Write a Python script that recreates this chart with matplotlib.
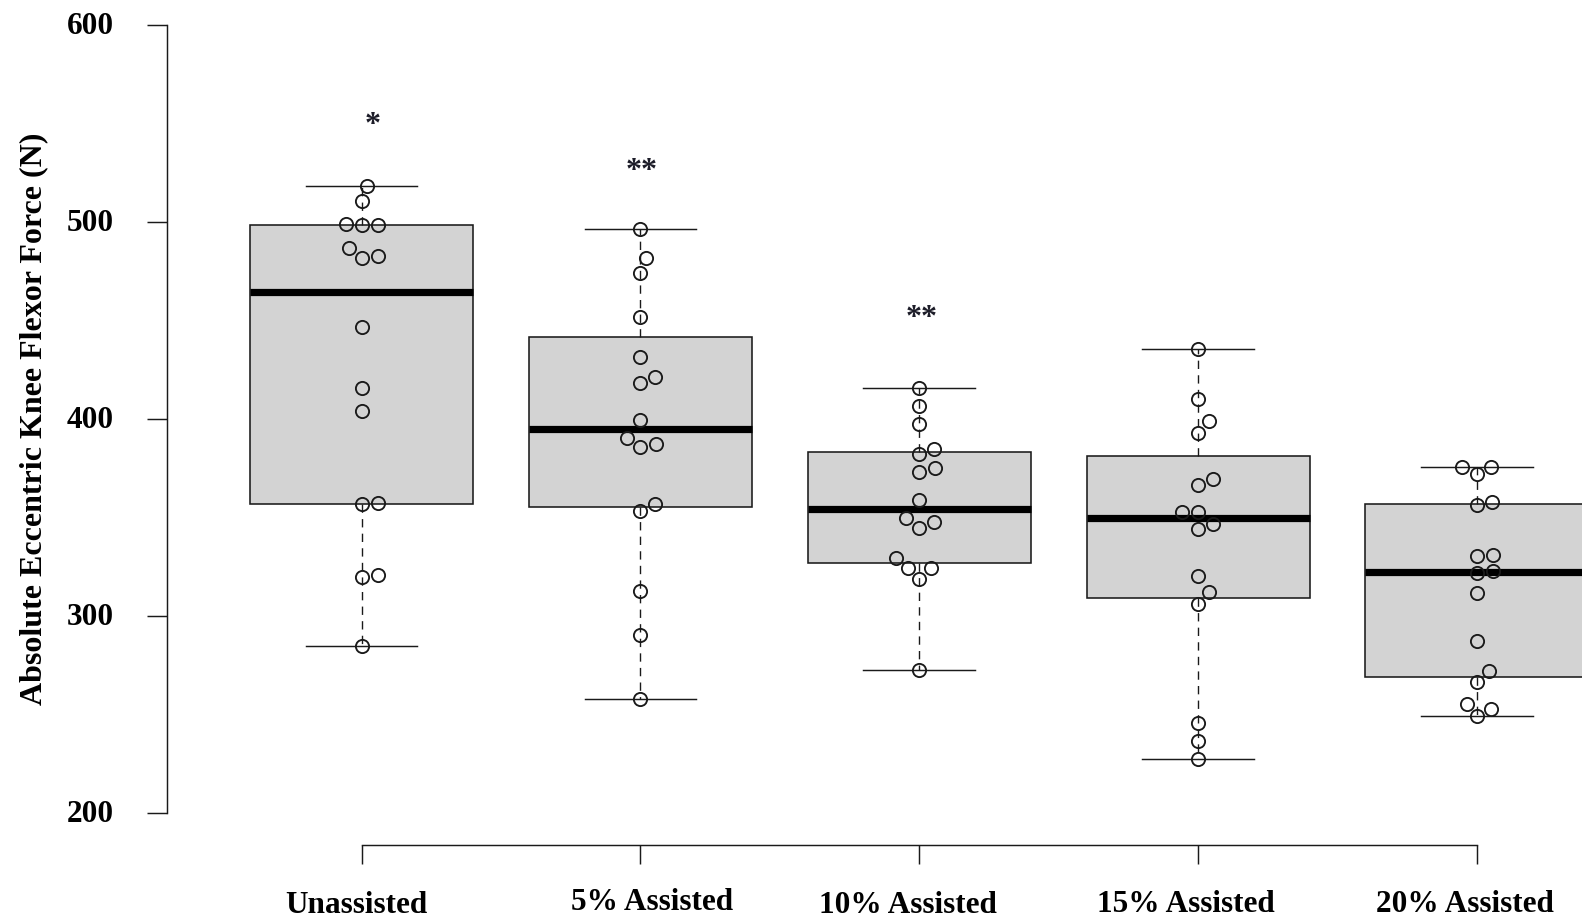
import numpy as np
import matplotlib
matplotlib.use("Agg")
import matplotlib.pyplot as plt
from matplotlib.transforms import ScaledTranslation

plt.rcParams["font.family"] = ["Liberation Serif", "DejaVu Serif"]
plt.rcParams["font.weight"] = "bold"

# values (N)
groups = ["Unassisted", "5% Assisted", "10% Assisted", "15% Assisted", "20% Assisted"]
unassisted = [518.5, 510.8, 498.5, 498.6, 499.0, 486.9, 481.8, 482.7,
              446.9, 415.8, 404.0, 357.0, 357.2, 319.9, 320.8, 284.9]
assist5 = [496.7, 481.8, 474.2, 452.0, 431.5, 418.2, 421.3, 399.6,
           390.4, 385.8, 387.6, 353.4, 357.1, 312.6, 290.5, 258.1]
assist10 = [416.0, 406.7, 397.7, 384.6, 382.1, 375.0, 373.3, 358.8,
            349.6, 347.9, 344.9, 329.7, 324.3, 324.6, 318.7, 272.5]
assist15 = [435.4, 410.0, 399.0, 393.1, 369.4, 366.5, 353.0, 352.7,
            346.6, 344.5, 320.3, 312.3, 306.3, 245.9, 236.9, 227.3]
assist20 = [375.7, 375.7, 372.3, 357.9, 356.4, 331.3, 330.8, 322.9,
            322.0, 311.9, 287.3, 272.1, 266.7, 255.7, 252.7, 249.2]
data = [unassisted, assist5, assist10, assist15, assist20]

sig_marks = ["*", "**", "**"]
sig_group = [1, 2, 3]
sig_y = [552.8, 529.5, 454.5]

yticks = [200, 300, 400, 500, 600]


def fivenum(v):
    # Tukey hinges, like R's boxplot
    x = np.sort(np.asarray(v, dtype=float))
    n = len(x)
    n4 = np.floor((n + 3) / 2) / 2
    d = np.array([1, n4, (n + 1) / 2, n + 1 - n4, n]) - 1
    return 0.5 * (x[np.floor(d).astype(int)] + x[np.ceil(d).astype(int)])


def box_stats(v):
    x = np.asarray(v, dtype=float)
    f = fivenum(x)
    iqr = f[3] - f[1]
    lo = x[x >= f[1] - 1.5 * iqr].min()
    hi = x[x <= f[3] + 1.5 * iqr].max()
    return dict(med=f[2], q1=f[1], q3=f[3], whislo=lo, whishi=hi, fliers=[])


def swarm(vals, px_x, px_y, size=16.0):
    # beeswarm "swarm" layout, priority ascending
    v = np.asarray(vals, dtype=float)
    yy = v * px_y / size
    order = np.argsort(v, kind="stable")
    off = np.zeros(len(v))
    placed = []
    for i in order:
        pre = [j for j in placed if yy[i] - yy[j] < 1]
        if pre:
            pre.sort(key=lambda j: abs(off[j]))
            dd = [np.sqrt(1 - (yy[i] - yy[j]) ** 2) for j in pre]
            cands = [0.0] + [off[j] + e for j, e in zip(pre, dd)] + [off[j] - e for j, e in zip(pre, dd)]
            good = []
            for c in cands:
                bad = any((yy[i] - yy[j]) ** 2 + (c - off[j]) ** 2 < 0.999 for j in pre)
                good.append(np.inf if bad else c)
            off[i] = min(good, key=abs)
        placed.append(i)
    return off * size / px_x


W, H = 1582, 918
fig = plt.figure(figsize=(W / 100, H / 100), dpi=100)
ax = fig.add_axes([166.6 / W, 73.2 / H, 1505.3 / W, 851.3 / H])
ax.set_xlim(0.3, 5.7)
ax.set_ylim(184, 616)

stats = [box_stats(v) for v in data]
ax.bxp(stats, positions=range(1, 6), widths=0.8, capwidths=0.4,
       patch_artist=True, showfliers=False,
       boxprops=dict(facecolor="#d3d3d3", edgecolor="#1a1a1a", linewidth=1.15),
       medianprops=dict(color="black", linewidth=5.2, solid_capstyle="butt"),
       whiskerprops=dict(color="#1a1a1a", linewidth=1.0, linestyle=(0, (6, 4.5))),
       capprops=dict(color="#1a1a1a", linewidth=1.05))

p0 = ax.transData.transform((0, 0))
p1 = ax.transData.transform((1, 1))
px_x, px_y = p1[0] - p0[0], p1[1] - p0[1]

for k, v in enumerate(data):
    xs = k + 1 + swarm(v, px_x, px_y)
    ax.plot(xs, v, "o", ms=9.5, mfc="none", mec="#1a1a1a", mew=1.35, zorder=4)

# significance marks
star_nudge = [10.6, 0.7, 2.2]
for m, g, y, dx in zip(sig_marks, sig_group, sig_y, star_nudge):
    ax.annotate(m, (g, y), xytext=(dx * 0.72, -10.5), textcoords="offset points",
                ha="center", va="baseline", fontsize=23, fontweight="bold", color="#1c1c28")

for s in ["top", "right"]:
    ax.spines[s].set_visible(False)
ax.spines["left"].set_bounds(200, 600)
ax.spines["bottom"].set_bounds(1, 5)
for s in ["left", "bottom"]:
    ax.spines[s].set_linewidth(1.05)
    ax.spines[s].set_color("#1a1a1a")

ax.set_yticks(yticks)
ax.set_xticks(range(1, 6))
ax.set_xticklabels(groups)
ax.tick_params(axis="y", length=14.3, width=1.05, pad=23.5, labelsize=22.5, color="#1a1a1a")
ax.tick_params(axis="x", length=13.7, width=1.05, pad=19.0, labelsize=22.5, color="#1a1a1a")

label_nudge = [(-5, -1), (11.5, 2.3), (-11.7, -1), (-12.5, 0.6), (-11.7, 0.6)]
for lab, (dx, dy) in zip(ax.get_xticklabels(), label_nudge):
    lab.set_transform(lab.get_transform() + ScaledTranslation(dx / 100, dy / 100, fig.dpi_scale_trans))
for lab in ax.get_yticklabels():
    lab.set_transform(lab.get_transform() + ScaledTranslation(0, 2 / 100, fig.dpi_scale_trans))

fig.text(34 / W, 1 - 419 / H, "Absolute Eccentric Knee Flexor Force (N)",
         rotation=90, ha="center", va="center", fontsize=23, fontweight="bold")

fig.savefig("out.png", dpi=100)
